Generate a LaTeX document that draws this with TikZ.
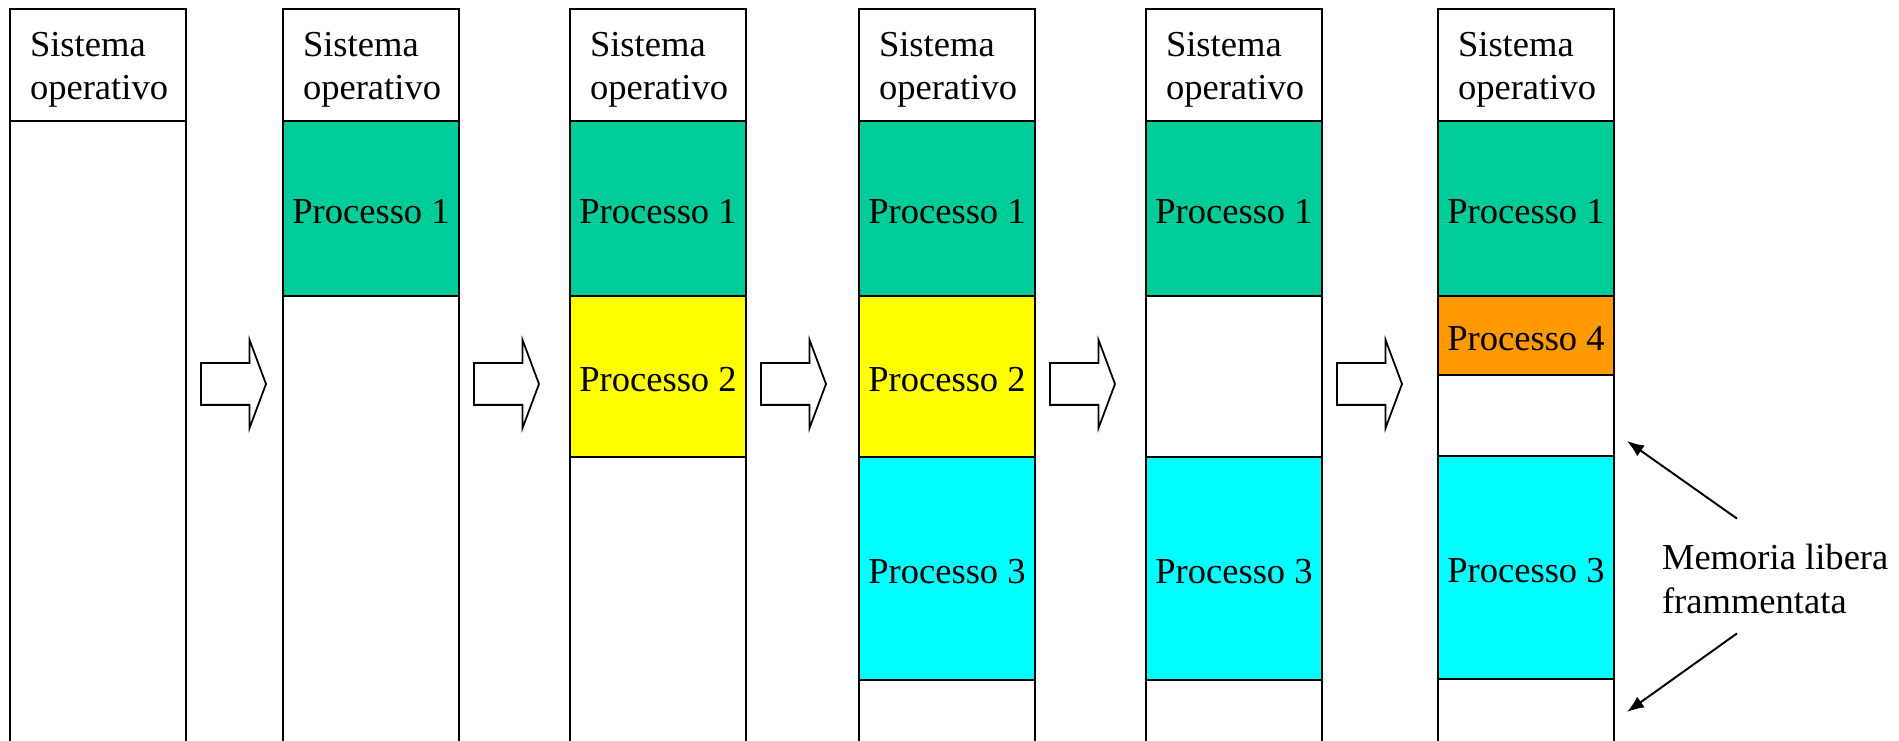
\documentclass[tikz,border=0pt]{standalone}
\usepackage{fontspec}
\setmainfont{Liberation Serif}
\usetikzlibrary{arrows.meta, calc, positioning, shapes.arrows}
\definecolor{verde}{HTML}{00CC99}
\definecolor{giallo}{HTML}{FFFF00}
\definecolor{ciano}{HTML}{00FFFF}
\definecolor{arancio}{HTML}{FF9900}
\tikzset{every node/.append style={font=\fontsize{20.8}{24.5}\selectfont, outer sep=0pt}}
\tikzset{colonna/.style={draw, line width=1.1pt, anchor=north west, inner sep=0pt, minimum width=3.52cm, minimum height=15cm}}
\tikzset{sisop/.style={draw, line width=1.1pt, anchor=north west, inner xsep=0.4cm, inner ysep=0pt, text width=2.72cm, text height=19.7pt, align=left, minimum height=2.24cm}}
\tikzset{proc/.style={draw, line width=1.1pt, inner sep=0pt, text height=16.6pt, text depth=0pt, minimum width=3.52cm}}
\tikzset{freccia/.style={draw, line width=1pt, single arrow, anchor=tail, inner xsep=0pt, inner ysep=0.4cm, minimum height=1.3cm, minimum width=1.72cm, single arrow head extend=0.46cm, single arrow tip angle=139}}
\tikzset{punta/.style={-{Latex[length=0.34cm,width=0.26cm]}, line width=1.1pt}}

\begin{document}
\begin{tikzpicture}
\useasboundingbox (0,0) rectangle (37.98,-14.82);
% colonne di memoria
\foreach \x [count=\i] in {0.2,5.66,11.40,17.18,22.92,28.76} {
  \node [colonna] (c\i) at (\x,-0.18) {};
  \node [sisop] (so\i) at (c\i.north west) {Sistema\\operativo};
}
\foreach \i in {1,...,5}
  \node [freccia] (f\i) at ($(c\i.north east)+(0.3,-7.5)$) {};
% colonna 2
\node [proc, fill=verde, minimum height=3.5cm, below=0pt of so2] (p1b) {Processo 1};
% colonna 3
\node [proc, fill=verde, minimum height=3.5cm, below=0pt of so3] (p1c) {Processo 1};
\node [proc, fill=giallo, minimum height=3.22cm, below=0pt of p1c] (p2c) {Processo 2};
% colonna 4
\node [proc, fill=verde, minimum height=3.5cm, below=0pt of so4] (p1d) {Processo 1};
\node [proc, fill=giallo, minimum height=3.22cm, below=0pt of p1d] (p2d) {Processo 2};
\node [proc, fill=ciano, minimum height=4.46cm, below=0pt of p2d] (p3d) {Processo 3};
% colonna 5
\node [proc, fill=verde, minimum height=3.5cm, below=0pt of so5] (p1e) {Processo 1};
\node [proc, fill=ciano, minimum height=4.46cm, below=3.22cm of p1e] (p3e) {Processo 3};
% colonna 6
\node [proc, fill=verde, minimum height=3.5cm, below=0pt of so6] (p1f) {Processo 1};
\node [proc, fill=arancio, minimum height=1.58cm, below=0pt of p1f] (p4f) {Processo 4};
\node [proc, fill=ciano, minimum height=4.46cm, below=1.62cm of p4f] (p3f) {Processo 3};
% memoria libera
\node [anchor=west, align=left, inner sep=0pt] (lib) at (33.24,-11.58) {Memoria libera\\frammentata};
\coordinate (buco1) at (32.54,-8.82);
\coordinate (buco2) at (32.54,-14.24);
\draw [punta] ($(lib.north west)+(1.5,0.52)$) -- (buco1);
\draw [punta] ($(lib.south west)+(1.5,-0.4)$) -- (buco2);
\end{tikzpicture}
\end{document}
